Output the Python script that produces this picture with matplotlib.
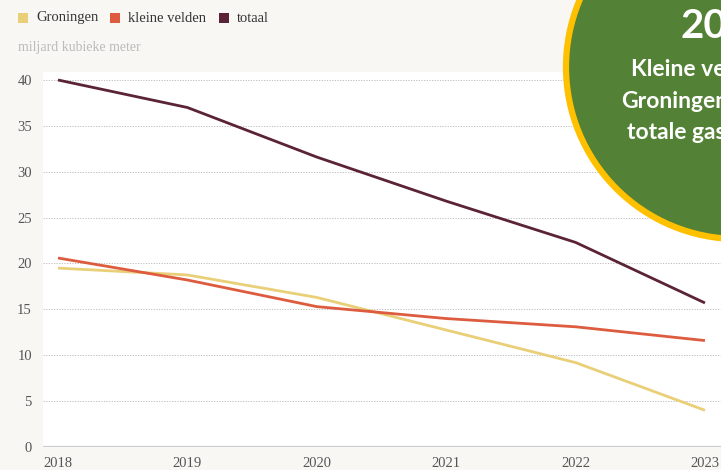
import matplotlib.pyplot as plt
from matplotlib.patches import Circle, Rectangle

# Data (miljard kubieke meter)
years = [2018, 2019, 2020, 2021, 2022, 2023]
groningen = [19.5, 18.75, 16.3, 12.75, 9.2, 4.0]
kleine_velden = [20.6, 18.2, 15.3, 14.0, 13.1, 11.6]
totaal = [40.0, 37.0, 31.6, 26.8, 22.3, 15.7]
y_ticks = [0, 5, 10, 15, 20, 25, 30, 35, 40]

c_gron = '#e9cf78'
c_klein = '#dd5c3f'
c_tot = '#5b2337'
bg = '#f8f7f3'

plt.rcParams['font.family'] = ['Liberation Serif', 'DejaVu Serif']

fig = plt.figure(figsize=(7.21, 4.70), dpi=100)
fig.patch.set_facecolor(bg)

ax = fig.add_axes([43/721, 23/470, 678/721, 375/470])
ax.set_facecolor('white')
ax.plot(years, groningen, color=c_gron, lw=2.0, solid_capstyle='butt')
ax.plot(years, kleine_velden, color=c_klein, lw=2.0, solid_capstyle='butt')
ax.plot(years, totaal, color=c_tot, lw=2.0, solid_capstyle='butt')

ax.set_xlim(2017.884, 2023.124)
ax.set_ylim(0, 40.87)
ax.set_yticks(y_ticks)
ax.set_xticks(years)
ax.set_xticklabels([str(y) for y in years])
for s in ax.spines.values():
    s.set_visible(False)
ax.axhline(0, color='#cccccc', lw=1.6, zorder=1)
for t in y_ticks[1:]:
    ax.axhline(t, color='#bbbbbb', lw=0.7, ls=(0, (1.2, 1.5)), zorder=0)
ax.tick_params(axis='both', length=0, labelsize=10.5, colors='#555555')
ax.tick_params(axis='y', pad=8)
ax.tick_params(axis='x', pad=7)

# Overlay in pixel coordinates: legend squares and callout circle
ov = fig.add_axes([0, 0, 1, 1], zorder=10)
ov.set_xlim(0, 721)
ov.set_ylim(470, 0)
ov.axis('off')
ov.patch.set_alpha(0)

legend_items = [('Groningen', c_gron, 18), ('kleine velden', c_klein, 110), ('totaal', c_tot, 219)]
for label, col, x0 in legend_items:
    ov.add_patch(Rectangle((x0, 13), 9.5, 9.5, facecolor=col, edgecolor='none'))
    ov.text(x0 + 18, 18, label, color='#333333', fontsize=10.5, va='center')
ov.text(18, 47, 'miljard kubieke meter', color='#bbbbbb', fontsize=10, va='center')

ov.add_patch(Circle((738, 67), 172, facecolor='#538135', edgecolor='#ffc000', lw=4.5))
ov.text(680, 38, '2023', color='white', fontsize=29, fontweight='bold', family='Lato', va='baseline')
ov.text(631, 76, 'Kleine velden', color='white', fontsize=16.5, fontweight='bold', family='Lato', va='baseline')
ov.text(621, 108, 'Groningen', color='white', fontsize=16.5, fontweight='bold', family='Lato', va='baseline')
ov.text(627, 139, 'totale gas', color='white', fontsize=16.5, fontweight='bold', family='Lato', va='baseline')

fig.savefig('out.png', dpi=100, facecolor=bg)
